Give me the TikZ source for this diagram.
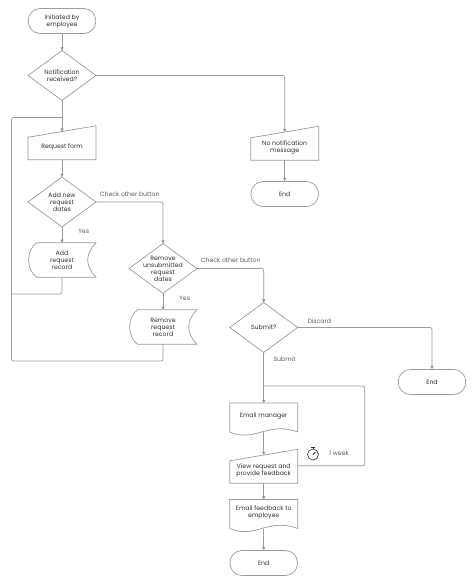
\documentclass[tikz,border=0pt]{standalone}
\usepackage{fontspec}
\setmainfont{Poppins}
\usetikzlibrary{positioning,arrows.meta,calc}
\definecolor{inkdark}{HTML}{2F2F36}
\definecolor{inkgrey}{HTML}{5C5C64}
\definecolor{linegrey}{HTML}{9A9AA2}
\definecolor{tipgrey}{HTML}{5F5F68}
\newcommand{\flowfont}{\fontsize{6.2}{7}\selectfont}

\begin{document}
\begin{tikzpicture}[
  on grid,
  x=1pt, y=1pt,
  outline/.style={draw=linegrey, line width=0.7pt},
  flowbase/.style={rectangle, minimum width=67.5pt, inner sep=0pt, align=center,
    font=\flowfont, text=inkdark},
  terminal/.style={flowbase, outline, rounded corners=12pt, minimum height=25pt},
  decision/.style={flowbase, minimum height=49.5pt, append after command={\pgfextra{
    \draw[outline] (\tikzlastnode.north) -- (\tikzlastnode.east)
      -- (\tikzlastnode.south) -- (\tikzlastnode.west) -- cycle;}}},
  manualin/.style={flowbase, minimum height=22pt, text depth=5pt, append after command={\pgfextra{
    \draw[outline] (\tikzlastnode.north west) -- ($(\tikzlastnode.north east)+(0,11.5)$)
      -- (\tikzlastnode.south east) -- (\tikzlastnode.south west) -- cycle;}}},
  storedrec/.style={flowbase, minimum height=34pt, append after command={\pgfextra{
    \draw[outline] ($(\tikzlastnode.north west)+(8.5,0)$) -- (\tikzlastnode.north east)
      .. controls ($(\tikzlastnode.east)+(-11,6)$) and ($(\tikzlastnode.east)+(-11,-6)$) .. (\tikzlastnode.south east)
      -- ($(\tikzlastnode.south west)+(8.5,0)$)
      .. controls ($(\tikzlastnode.west)+(-2,-10)$) and ($(\tikzlastnode.west)+(-2,10)$) .. cycle;}}},
  wavedoc/.style={flowbase, minimum height=28.5pt, text depth=5pt, append after command={\pgfextra{
    \draw[outline] (\tikzlastnode.south west) -- (\tikzlastnode.north west)
      -- (\tikzlastnode.north east) -- (\tikzlastnode.south east)
      .. controls ($(\tikzlastnode.south east)+(-30,11)$) and ($(\tikzlastnode.south west)+(25,-11)$) .. cycle;}}},
  link/.style={-{Triangle[length=3.2pt, width=3.2pt, fill=tipgrey]}, draw=linegrey,
    line width=0.7pt, rounded corners=2pt},
  rail/.style={draw=linegrey, line width=0.7pt, rounded corners=2pt},
  edgelabel/.style={font=\flowfont, text=inkgrey, inner sep=0pt},
]

% ---- nodes ----
\node[terminal] (start) at (62,-21) {Initiated by\\employee};
\node[decision, below=54.5pt of start] (notified) {Notification\\received?};
\node[manualin, below=73pt of notified] (form) {Request form};
\node[decision, below=53.5pt of form] (adddates) {Add new\\request\\dates};
\node[storedrec, below=58pt of adddates] (addrec) {Add\\request\\record};
\node[decision, below right=66.5pt and 101pt of adddates] (rmdates) {Remove\\unsubmitted\\request\\dates};
\node[storedrec, below=58.5pt of rmdates] (rmrec) {Remove\\request\\record};
\node[decision, below right=59pt and 100.7pt of rmdates] (submit) {Submit?};
\node[terminal, below right=54.5pt and 168.3pt of submit] (discardend) {End};
\node[manualin, below right=73.5pt and 222.7pt of notified] (nomsg) {No notification\\message};
\node[terminal, below=45pt of nomsg] (nomsgend) {End};
\node[wavedoc, below=90pt of submit] (manager) {Email manager};
\node[manualin, below=54.5pt of manager] (review) {View request and\\provide feedback};
\node[wavedoc, below=42pt of review] (feedback) {Email feedback to\\employee};
\node[terminal, below=49pt of feedback] (finish) {End};

% ---- free ends of the return lines ----
\coordinate (addcorner) at (11.5,-294);
\coordinate (rmcorner) at (11.5,-361);
\coordinate (formjoin) at (62,-117.5);
\coordinate (weekcorner) at (364.7,-386);
\coordinate (managerjoin) at (263.7,-386);

% ---- connectors ----
\draw[link] (start.south) -- (notified.north);
\draw[link] (notified.south) -- ($(form.north)+(0,5.7)$);
\draw[link] (notified.east) -| ($(nomsg.north)+(0,5.7)$);
\draw[link] (nomsg.south) -- (nomsgend.north);
\draw[link] (form.south) -- (adddates.north);
\draw[link] (adddates.south) -- (addrec.north)
  node[edgelabel, pos=0.3, right=16pt] (yesadd) {Yes};
\draw[link] (adddates.east) -| (rmdates.north)
  node[edgelabel, pos=0, anchor=south west, xshift=3.5pt, yshift=5.5pt] (checkadd) {Check other button};
\draw[link] (rmdates.south) -- (rmrec.north)
  node[edgelabel, pos=0.3, right=16pt] (yesrm) {Yes};
\draw[link] (rmdates.east) -| (submit.north)
  node[edgelabel, pos=0, anchor=south west, xshift=3.5pt, yshift=5.5pt] (checkrm) {Check other button};
\draw[link] (submit.east) -| (discardend.north)
  node[edgelabel, pos=0, anchor=south west, xshift=9.5pt, yshift=3.5pt] (discard) {Discard};
\draw[link] (submit.south) -- (manager.north)
  node[edgelabel, pos=0.13, anchor=west, xshift=9.5pt] (sent) {Submit};
\draw[link] ($(manager.south)+(0,-0.5)$) -- ($(review.north)+(0,5.7)$);
\draw[link] (review.south) -- (feedback.north);
\draw[link] ($(feedback.south)+(0,-0.5)$) -- (finish.north);

% ---- return lines ----
\draw[rail] (addrec.south) |- (addcorner);
\draw[rail] (rmrec.south) |- (rmcorner) |- (formjoin);
\draw[rail] ($(review.north east)+(0,-5)$) -| (weekcorner) -- (managerjoin);

% ---- timer ----
\node[circle, draw=inkdark, line width=0.6pt, minimum size=11pt, inner sep=0pt] (watch) at (313,-454.5) {};
\draw[inkdark, line width=0.9pt] ($(watch.north)+(-1.7,1.6)$) -- ($(watch.north)+(1.7,1.6)$);
\draw[inkdark, line width=0.6pt] (watch.north) -- ++(0,1.6);
\draw[inkdark, line width=0.8pt] (watch.center) -- ++(2.4,2.4);
\node[edgelabel, anchor=west] (weeklabel) at (329,-453.5) {1 week};

\useasboundingbox (0,0) rectangle (474,-584);
\end{tikzpicture}
\end{document}
